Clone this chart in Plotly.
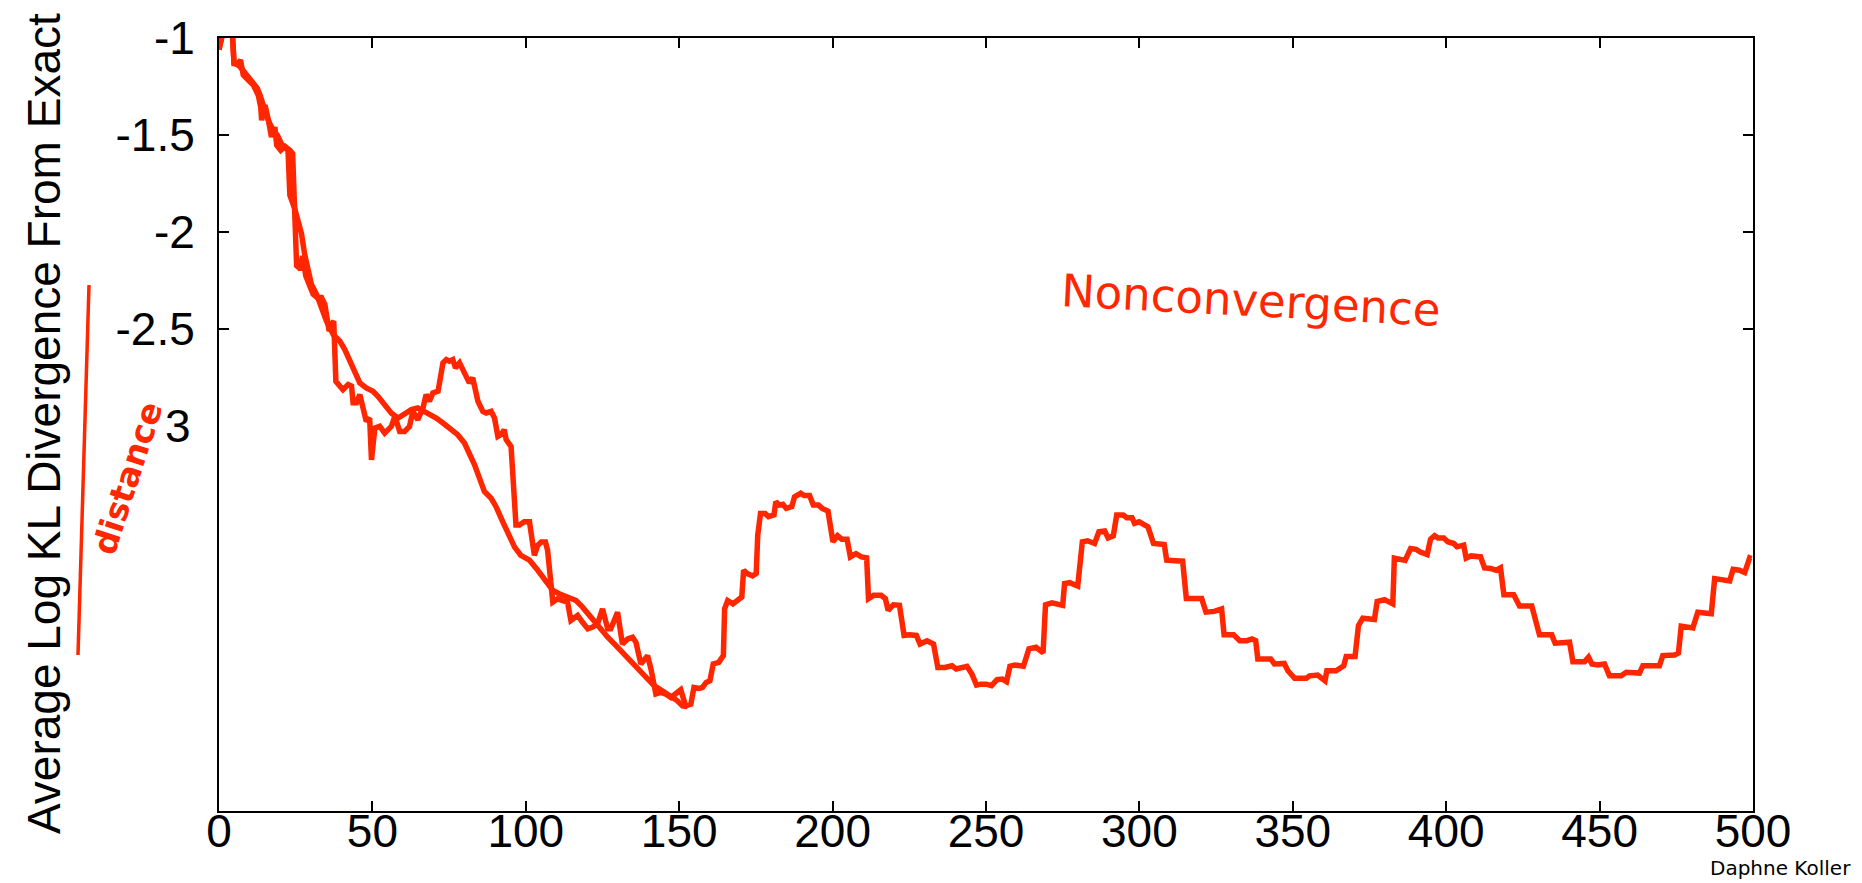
import plotly.graph_objects as go

# Series A: jagged run (full 0-500 iterations)
a_x = [0, 1.4, 3.0, 4.4, 4.9, 6.3, 7.0, 7.9, 9.5, 11.2, 12.8, 13.6, 13.9, 15.0, 16.1, 17.1, 18.2, 18.8,
       20.1, 21.5, 23.1, 24.0, 25.3, 26.6, 27.2, 28.3, 29.6, 30.7, 32.0, 33.4, 34.5, 35.2, 35.9, 37.0,
       37.4, 38.1, 38.8, 40.4, 42.1, 43.2, 43.7, 44.8, 45.9, 46.9, 48.0, 49.1, 49.7, 50.8, 52.4, 54.0,
       56.2, 57.3, 58.9, 60.5, 62.1, 63.2, 64.8, 66.5, 67.5, 68.6, 69.7, 71.4, 73.0, 74.1, 75.1, 76.2,
       77.1, 78.4, 79.5, 80.6, 81.6, 82.7, 84.4, 86.0, 87.1, 88.7, 89.8, 90.9, 91.9, 93.0, 93.6, 95.2,
       96.8, 97.9, 99.5, 101.2, 102.8, 103.9, 105.0, 106.4, 107.1, 108.8, 110.4, 112.0, 113.6, 114.7,
       116.9, 118.5, 120.2, 121.8, 123.4, 125.0, 126.7, 127.7, 129.9, 131.5, 133.2, 134.8, 135.9, 137.5,
       139.7, 140.8, 142.4, 144.0, 145.6, 147.3, 148.9, 150.5, 152.1, 153.8, 154.8, 156.5, 157.6, 158.8,
       160.0, 161.1, 162.9, 164.4, 164.8, 165.8, 167.5, 169.2, 170.4, 171.0, 172.2, 173.9, 175.1, 175.6,
       176.5, 178.0, 179.1, 180.9, 181.5, 182.6, 183.8, 184.9, 186.7, 187.6, 189.6, 190.7, 192.5, 193.7,
       195.4, 196.6, 198.5, 200.1, 201.6, 203.0, 204.7, 205.8, 207.6, 209.4, 211.1, 211.7, 213.4, 215.8,
       217.2, 218.1, 219.8, 221.8, 223.3, 225.0, 227.3, 228.5, 230.8, 232.9, 234.3, 236.6, 238.9, 240.3,
       242.2, 243.8, 245.4, 246.9, 248.3, 250.0, 251.8, 253.6, 255.3, 256.7, 257.8, 259.4, 262.2, 264.0,
       266.3, 268.6, 269.4, 271.5, 275.0, 275.6, 277.3, 279.9, 281.4, 283.1, 285.4, 286.8, 288.7, 289.8,
       291.5, 292.6, 294.7, 295.9, 297.6, 298.4, 299.9, 301.7, 302.8, 304.6, 306.3, 308.1, 308.9, 311.0,
       314.1, 315.3, 318.0, 320.3, 321.7, 324.4, 326.8, 327.6, 330.7, 332.7, 335.0, 336.7, 337.9, 338.6,
       342.8, 344.0, 347.2, 348.4, 350.6, 354.4, 355.5, 358.1, 360.5, 361.1, 364.1, 366.6, 367.4, 370.3,
       371.4, 372.8, 376.6, 377.5, 379.9, 382.6, 383.1, 386.6, 388.4, 390.2, 391.6, 393.8, 394.9, 396.2,
       397.3, 399.2, 400.5, 402.5, 403.5, 405.7, 406.5, 408.1, 411.2, 412.5, 414.6, 416.3, 417.7, 418.8,
       422.0, 423.9, 427.9, 429.3, 430.4, 434.4, 435.5, 440.2, 441.3, 445.1, 446.4, 447.5, 449.4, 451.6,
       453.2, 457.0, 458.7, 463.0, 464.1, 469.5, 470.6, 474.4, 475.7, 476.6, 480.4, 482.0, 486.4, 487.5,
       492.4, 493.5, 495.6, 497.3, 498.9, 499.5]
a_y = [-1.06, -0.96, -0.93, -0.99, -1.131, -1.131, -1.114, -1.191, -1.217, -1.243, -1.295, -1.355, -1.424,
       -1.346, -1.424, -1.510, -1.459, -1.553, -1.579, -1.559, -1.579, -1.596, -2.174, -2.192, -2.123,
       -2.227, -2.278, -2.321, -2.338, -2.338, -2.373, -2.459, -2.511, -2.468, -2.459, -2.770, -2.787,
       -2.813, -2.787, -2.795, -2.881, -2.881, -2.838, -2.907, -2.976, -2.959, -3.175, -3.011, -3.002,
       -3.037, -3.002, -2.950, -3.028, -3.028, -3.002, -2.925, -2.968, -2.907, -2.838, -2.873, -2.830,
       -2.821, -2.675, -2.658, -2.666, -2.658, -2.701, -2.675, -2.709, -2.744, -2.778, -2.752, -2.873,
       -2.925, -2.933, -2.925, -2.959, -3.054, -3.045, -3.020, -3.071, -3.106, -3.511, -3.511, -3.494,
       -3.494, -3.667, -3.615, -3.598, -3.598, -3.641, -3.908, -3.891, -3.900, -3.908, -4.003, -3.977,
       -4.012, -4.046, -4.037, -4.020, -3.943, -4.046, -4.046, -3.960, -4.124, -4.098, -4.089, -4.115,
       -4.227, -4.184, -4.253, -4.382, -4.374, -4.382, -4.400, -4.382, -4.360, -4.443, -4.434, -4.348,
       -4.353, -4.348, -4.322, -4.314, -4.227, -4.219, -4.184, -3.943, -3.900, -3.917, -3.900, -3.882,
       -3.744, -3.761, -3.773, -3.761, -3.563, -3.451, -3.451, -3.468, -3.459, -3.390, -3.408, -3.404,
       -3.425, -3.416, -3.365, -3.347, -3.359, -3.359, -3.408, -3.408, -3.425, -3.439, -3.597, -3.566,
       -3.584, -3.584, -3.675, -3.658, -3.675, -3.680, -3.890, -3.873, -3.873, -3.890, -3.951, -3.922,
       -3.925, -4.080, -4.077, -4.080, -4.124, -4.107, -4.124, -4.245, -4.245, -4.236, -4.253, -4.245,
       -4.239, -4.279, -4.336, -4.331, -4.331, -4.339, -4.308, -4.305, -4.318, -4.239, -4.232, -4.239,
       -4.149, -4.141, -4.170, -3.922, -3.912, -3.925, -3.813, -3.808, -3.825, -3.597, -3.592, -3.606,
       -3.546, -3.542, -3.577, -3.566, -3.459, -3.459, -3.473, -3.473, -3.502, -3.494, -3.515, -3.520,
       -3.606, -3.611, -3.611, -3.692, -3.692, -3.697, -3.890, -3.890, -3.890, -3.960, -3.956, -3.943,
       -4.077, -4.077, -4.107, -4.107, -4.098, -4.107, -4.201, -4.201, -4.227, -4.224, -4.262, -4.301,
       -4.301, -4.288, -4.284, -4.314, -4.262, -4.262, -4.236, -4.188, -4.188, -4.029, -3.991, -3.998,
       -3.905, -3.895, -3.917, -3.681, -3.693, -3.632, -3.636, -3.650, -3.663, -3.584, -3.566, -3.577,
       -3.577, -3.597, -3.606, -3.623, -3.614, -3.681, -3.670, -3.675, -3.732, -3.735, -3.744, -3.732,
       -3.870, -3.870, -3.928, -3.928, -4.029, -4.077, -4.077, -4.120, -4.115, -4.215, -4.215, -4.192,
       -4.227, -4.232, -4.227, -4.288, -4.288, -4.270, -4.274, -4.236, -4.236, -4.184, -4.181, -4.170,
       -4.032, -4.041, -3.960, -3.968, -3.787, -3.799, -3.739, -3.744, -3.756, -3.680, -3.684]

# Series B: smoother run (0-153 iterations)
b_x = [0, 1.4, 3.0, 4.4, 4.9, 6.3, 7.5, 9.0, 11.0, 12.5, 13.5, 14.5, 15.5, 16.5, 17.8, 19.0, 20.5, 22.5,
       23.1, 24.7, 25.8, 26.9, 27.9, 29.1, 30.1, 31.8, 33.4, 35.0, 37.2, 39.4, 41.0, 42.6, 44.2, 45.9,
       48.0, 50.2, 51.8, 53.5, 56.2, 58.4, 60.5, 62.7, 64.8, 67.0, 70.8, 73.0, 75.1, 77.8, 80.0, 81.6,
       83.3, 84.9, 86.5, 88.7, 90.3, 92.5, 94.6, 96.3, 98.4, 101.2, 103.9, 106.6, 108.8, 110.9, 113.6,
       116.4, 118.5, 121.2, 123.9, 126.7, 129.4, 131.5, 134.2, 136.9, 139.1, 141.8, 144.5, 147.3, 149.4,
       151.1, 152.7]
b_y = [-1.06, -0.96, -0.93, -0.99, -1.13, -1.14, -1.16, -1.19, -1.22, -1.26, -1.30, -1.36, -1.40, -1.44,
       -1.48, -1.50, -1.55, -1.58, -1.81, -1.881, -1.959, -2.010, -2.114, -2.192, -2.269, -2.321, -2.390,
       -2.459, -2.528, -2.563, -2.606, -2.666, -2.727, -2.778, -2.804, -2.821, -2.847, -2.882, -2.934,
       -2.959, -2.934, -2.916, -2.907, -2.925, -2.959, -2.985, -3.011, -3.045, -3.088, -3.140, -3.200,
       -3.269, -3.338, -3.373, -3.416, -3.494, -3.572, -3.623, -3.667, -3.692, -3.744, -3.805, -3.848,
       -3.865, -3.882, -3.900, -3.934, -3.986, -4.037, -4.089, -4.132, -4.167, -4.219, -4.262, -4.296,
       -4.339, -4.365, -4.391, -4.417, -4.443, -4.446]

x_ticks = [0, 50, 100, 150, 200, 250, 300, 350, 400, 450, 500]
y_ticks = [-1, -1.5, -2, -2.5]
y_tick_text = ["-1", "-1.5", "-2", "-2.5"]

RED = "#FF2600"
OFF = 8                      # page body margin offset
W, H = 1862 - OFF, 883 - OFF
L, R, T = 219 - OFF, 109, 38 - OFF
B = H - (811 - OFF)
PW, PH = W - L - R, H - T - B


def px(x):
    """page pixel x -> paper x"""
    return (x - OFF - L) / PW


def py(y):
    """page pixel y -> paper y"""
    return (H - B - (y - OFF)) / PH


fig = go.Figure()
fig.add_trace(go.Scatter(x=b_x, y=b_y, mode="lines", line=dict(color=RED, width=5.5),
                         showlegend=False, hoverinfo="skip"))
fig.add_trace(go.Scatter(x=a_x, y=a_y, mode="lines", line=dict(color=RED, width=5.5),
                         showlegend=False, hoverinfo="skip"))

axis_font = dict(family="Liberation Sans, Arial, sans-serif", size=46, color="black")
fig.update_xaxes(range=[0, 500], tickvals=x_ticks, ticks="inside", ticklen=10, tickwidth=2,
                 tickcolor="black", showline=True, linewidth=2, linecolor="black", mirror="ticks",
                 showgrid=False, zeroline=False, tickfont=axis_font, ticklabelstandoff=-21)
fig.update_yaxes(range=[-4.985, -1], tickvals=y_ticks, ticktext=y_tick_text, ticks="inside",
                 ticklen=10, tickwidth=2, tickcolor="black", showline=True, linewidth=2,
                 linecolor="black", mirror="ticks", showgrid=False, zeroline=False,
                 tickfont=axis_font, ticklabelstandoff=13)

annotations = [
    dict(text="Average Log KL Divergence From Exact", x=px(44), y=py(424), xref="paper", yref="paper",
         textangle=-90, showarrow=False, xanchor="center", yanchor="middle",
         font=dict(family="Liberation Sans, Arial, sans-serif", size=46, color="black")),
    dict(text="3", x=px(193), y=-3, xref="paper", yref="y", showarrow=False,
         xanchor="right", yanchor="middle", font=axis_font),
    dict(text="Nonconvergence", x=px(1251), y=py(300), xref="paper", yref="paper", showarrow=False,
         xanchor="center", yanchor="middle", textangle=3,
         font=dict(family="DejaVu Sans, sans-serif", size=45, color=RED)),
    dict(text="<b>distance</b>", x=px(127), y=py(478), xref="paper", yref="paper", showarrow=False,
         xanchor="center", yanchor="middle", textangle=-72,
         font=dict(family="DejaVu Sans, sans-serif", size=33, color=RED)),
    dict(text="Daphne Koller", x=px(1780), y=py(868), xref="paper", yref="paper", showarrow=False,
         xanchor="center", yanchor="middle",
         font=dict(family="DejaVu Sans, sans-serif", size=20, color="black")),
]

shapes = [
    dict(type="line", xref="paper", yref="paper", x0=px(89), y0=py(285), x1=px(78), y1=py(655),
         line=dict(color=RED, width=3.5)),
]

fig.update_layout(width=W, height=H, margin=dict(l=L, r=R, t=T, b=B, autoexpand=False),
                  paper_bgcolor="white", plot_bgcolor="white", annotations=annotations,
                  shapes=shapes)

fig.write_html("out.html")
